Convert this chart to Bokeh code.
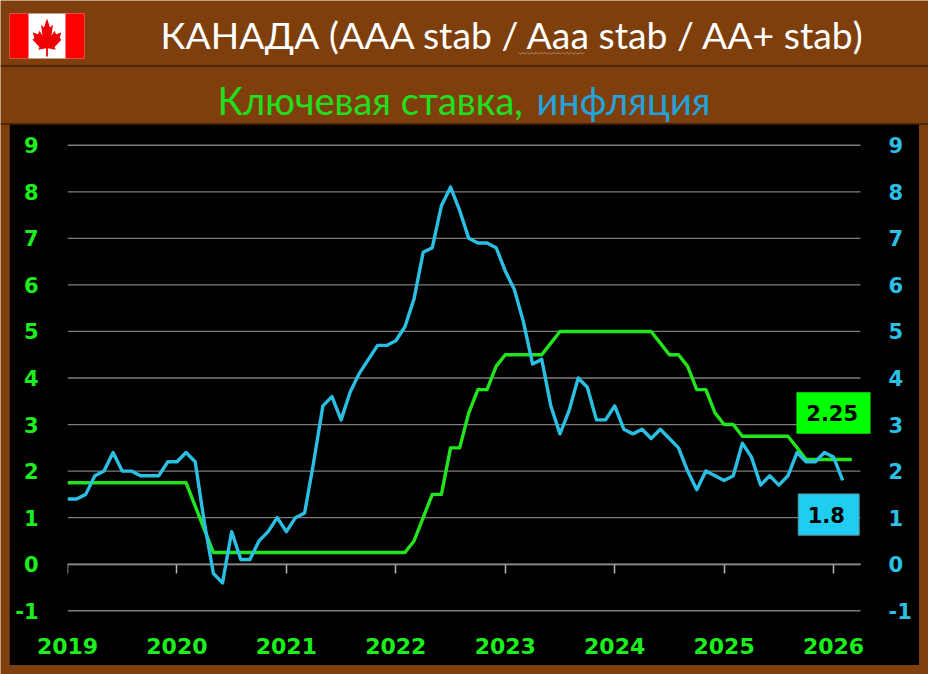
from bokeh.plotting import figure
from bokeh.models import Range1d, LinearAxis, FixedTicker
from bokeh.core.properties import value
from bokeh.embed import file_html
from bokeh.resources import INLINE

years = ["2019", "2020", "2021", "2022", "2023", "2024", "2025", "2026"]
inflation = [1.4, 1.4, 1.5, 1.9, 2.0, 2.4, 2.0, 2.0, 1.9, 1.9, 1.9, 2.2,
             2.2, 2.4, 2.2, 0.9, -0.2, -0.4, 0.7, 0.1, 0.1, 0.5, 0.7, 1.0,
             0.7, 1.0, 1.1, 2.2, 3.4, 3.6, 3.1, 3.7, 4.1, 4.4, 4.7, 4.7,
             4.8, 5.1, 5.7, 6.7, 6.8, 7.7, 8.1, 7.6, 7.0, 6.9, 6.9, 6.8,
             6.3, 5.9, 5.2, 4.3, 4.4, 3.4, 2.8, 3.3, 4.0, 3.8, 3.1, 3.1,
             3.4, 2.9, 2.8, 2.9, 2.7, 2.9, 2.7, 2.5, 2.0, 1.6, 2.0, 1.9,
             1.8, 1.9, 2.6, 2.3, 1.7, 1.9, 1.7, 1.9, 2.4, 2.2, 2.2, 2.4,
             2.3, 1.8]
key_rate = [1.75, 1.75, 1.75, 1.75, 1.75, 1.75, 1.75, 1.75, 1.75, 1.75, 1.75, 1.75,
            1.75, 1.75, 1.25, 0.75, 0.25, 0.25, 0.25, 0.25, 0.25, 0.25, 0.25, 0.25,
            0.25, 0.25, 0.25, 0.25, 0.25, 0.25, 0.25, 0.25, 0.25, 0.25, 0.25, 0.25,
            0.25, 0.25, 0.5, 1.0, 1.5, 1.5, 2.5, 2.5, 3.25, 3.75, 3.75, 4.25,
            4.5, 4.5, 4.5, 4.5, 4.5, 4.75, 5.0, 5.0, 5.0, 5.0, 5.0, 5.0,
            5.0, 5.0, 5.0, 5.0, 5.0, 4.75, 4.5, 4.5, 4.25, 3.75, 3.75, 3.25,
            3.0, 3.0, 2.75, 2.75, 2.75, 2.75, 2.75, 2.75, 2.5, 2.25, 2.25, 2.25,
            2.25, 2.25, 2.25]
y_ticks = [-1, 0, 1, 2, 3, 4, 5, 6, 7, 8, 9]

BROWN = "#7f3f0c"
GREEN = "#22e51e"
BLUE = "#2bbfe3"
LABEL_GREEN = "#1cf01c"
LABEL_BLUE = "#2cc0e6"
TITLE_FONT = "Lato"
NUM_FONT = "DejaVu Sans"

# ---------- brown page with header ----------
head = figure(width=928, height=674, output_backend="svg", toolbar_location=None,
              x_range=Range1d(0, 928), y_range=Range1d(674, 0),
              min_border=0, background_fill_color=BROWN, border_fill_color=BROWN,
              x_axis_location=None, y_axis_location=None,
              styles={"position": "absolute", "left": "0px", "top": "0px"})
head.grid.visible = False
head.outline_line_color = None

head.quad(left=[9], right=[84], top=[13], bottom=[58], fill_color="white", line_color=None)
head.quad(left=[9, 65], right=[28, 84], top=[13, 13], bottom=[58, 58], fill_color="#ff0000", line_color=None)
half = [(0, 1.0), (0.17, 0.68), (0.33, 0.78), (0.25, 0.38), (0.42, 0.56), (0.50, 0.44),
        (0.80, 0.50), (0.70, 0.30), (0.80, 0.24), (0.42, -0.02), (0.48, -0.12),
        (0.05, -0.06), (0.05, -0.36)]
pts = half + [(-a, b) for a, b in reversed(half[1:])]
head.patch([46.5 + 18 * a for a, b in pts], [46 - 28 * b for a, b in pts], fill_color="#f00000", line_color=None)

head.segment(x0=[0, 0], x1=[928, 928], y0=[65.5, 123.5], y1=[65.5, 123.5], line_color="#1a0d02", line_width=1)
head.text(x=[160], y=[34], text=["КАНАДА (AAA stab / Aaa stab / AA+ stab)"],
          text_font=value(TITLE_FONT), text_font_size="37.3px", text_color="white",
          text_align="left", text_baseline="middle")
head.line([518 + 2.2 * i for i in range(31)], [52 + (i % 2) * 1.6 for i in range(31)], line_color="#c9a184", line_width=0.7)
head.text(x=[217], y=[99], text=["Ключевая ставка,"],
          text_font=value(TITLE_FONT), text_font_size="38px", text_color="#1fe01f",
          text_align="left", text_baseline="middle")
head.text(x=[536], y=[99], text=["инфляция"],
          text_font=value(TITLE_FONT), text_font_size="38px", text_color="#22a3dc",
          text_align="left", text_baseline="middle")

# ---------- chart ----------
X_END = 86.95
p = figure(width=910, height=541, output_backend="svg", toolbar_location=None,
           x_range=Range1d(0, 88.27), y_range=Range1d(-1.0375, 9.0375),
           min_border_left=58, min_border_right=47, min_border_top=19, min_border_bottom=53,
           background_fill_color="black", border_fill_color="black",
           x_axis_location=None, y_axis_location=None,
           styles={"position": "absolute", "left": "9px", "top": "124px"})
p.outline_line_color = "black"
p.xgrid.visible = False
p.ygrid.visible = False

year_ticks = [i * 12 for i in range(len(years))]

left = LinearAxis(ticker=FixedTicker(ticks=y_ticks), major_label_overrides={t: str(t) for t in y_ticks})
right = LinearAxis(ticker=FixedTicker(ticks=y_ticks), major_label_overrides={t: str(t) for t in y_ticks})
for ax, col in ((left, LABEL_GREEN), (right, LABEL_BLUE)):
    ax.axis_line_color = None
    ax.major_tick_line_color = None
    ax.minor_tick_line_color = None
    ax.major_tick_in = 0
    ax.major_tick_out = 0
    ax.major_label_text_color = col
    ax.major_label_text_font = NUM_FONT
    ax.major_label_text_font_style = "bold"
    ax.major_label_text_font_size = "21px"
left.major_label_standoff = 29
right.major_label_standoff = 16
p.add_layout(left, "left")
p.add_layout(right, "right")

p.segment(x0=[0] * len(y_ticks), x1=[X_END] * len(y_ticks), y0=y_ticks, y1=y_ticks,
          line_color="#7d7d7d", line_width=1.3)

bottom = LinearAxis(ticker=FixedTicker(ticks=year_ticks),
                    major_label_overrides=dict(zip(year_ticks, years)))
bottom.axis_line_color = None
bottom.major_tick_line_color = None
bottom.minor_tick_line_color = None
bottom.major_tick_in = 0
bottom.major_tick_out = 0
bottom.major_label_text_color = LABEL_GREEN
bottom.major_label_text_font = NUM_FONT
bottom.major_label_text_font_style = "bold"
bottom.major_label_text_font_size = "22px"
bottom.major_label_standoff = 25
p.add_layout(bottom, "below")

zero = LinearAxis(ticker=FixedTicker(ticks=year_ticks), fixed_location=0, level="underlay",
                  bounds=(0, X_END),
                  major_label_text_color=None, axis_line_color="#b5b5b5", axis_line_width=1.5,
                  major_tick_line_color="#b5b5b5", major_tick_line_width=1.5,
                  major_tick_in=0, major_tick_out=9, minor_tick_line_color=None)
p.add_layout(zero, "below")

p.line(list(range(len(key_rate))), key_rate, line_color=GREEN, line_width=3.4, line_join="round")
p.line(list(range(len(inflation))), inflation, line_color=BLUE, line_width=3.4, line_join="round")

# value badges
p.quad(left=[79.93], right=[88.05], top=[3.695], bottom=[2.80], fill_color="#00ff00", line_color=None)
p.quad(left=[80.12], right=[86.81], top=[1.51], bottom=[0.623], fill_color="#1fcdf0", line_color="#5a8aa0", line_width=1)
p.text(x=[83.85], y=[3.24], text=[str(key_rate[-1])], text_color="black", text_font=value(NUM_FONT),
       text_font_style="bold", text_font_size="21px", text_align="center", text_baseline="middle")
p.text(x=[83.2], y=[1.05], text=[str(inflation[-1])], text_color="black", text_font=value(NUM_FONT),
       text_font_style="bold", text_font_size="21px", text_align="center", text_baseline="middle")

open("out.html", "w").write(file_html([head, p], INLINE))
